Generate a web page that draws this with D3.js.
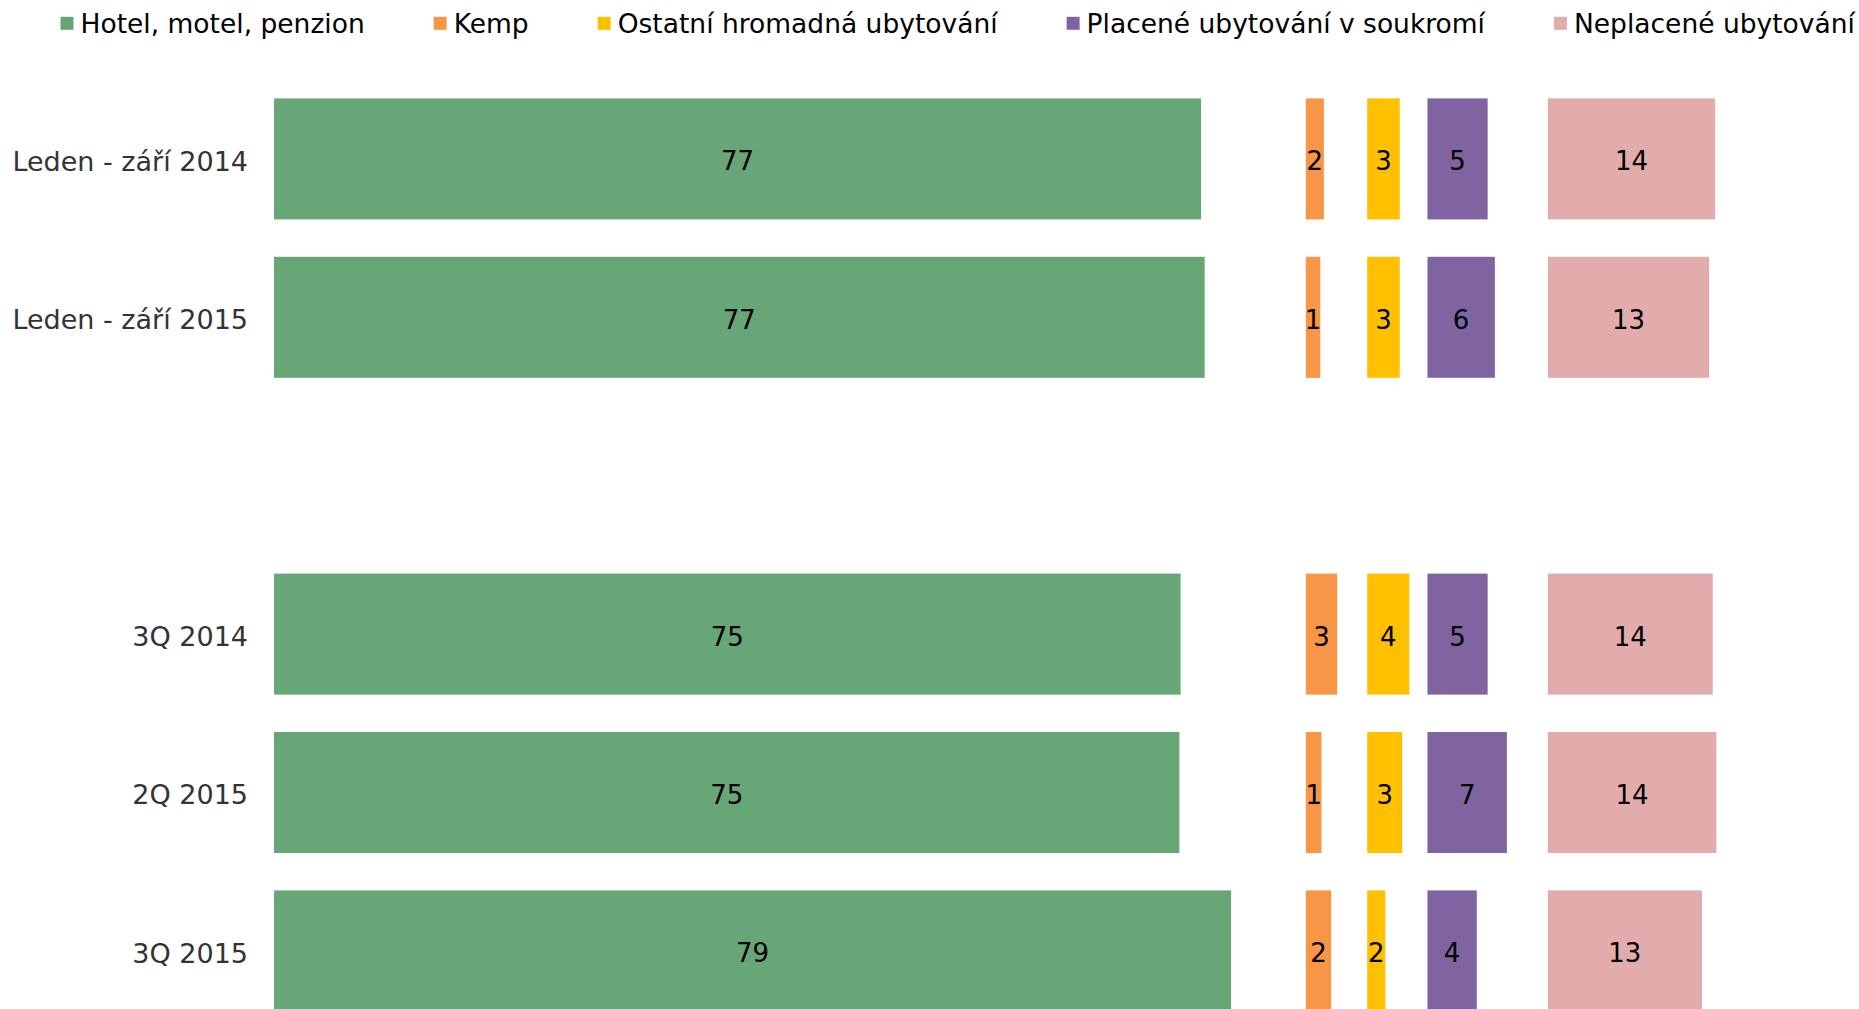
<!doctype html>
<html>
<head>
<meta charset="utf-8">
<script src="https://cdnjs.cloudflare.com/ajax/libs/d3/7.8.5/d3.min.js"></script>
<style>
body { margin: 0; background: #fff; }
text { font-family: "DejaVu Sans", Verdana, sans-serif; }
</style>
</head>
<body>
<svg id="chart" width="1859" height="1009"></svg>
<script>
// categories ("" is the empty spacer row between the two groups)
var categories = ["Leden - září 2014", "Leden - září 2015", "", "3Q 2014", "2Q 2015", "3Q 2015"];
var seriesNames = ["Hotel, motel, penzion", "Kemp", "Ostatní hromadná ubytování",
                   "Placené ubytování v soukromí", "Neplacené ubytování"];

// shares in %
var hotel     = [77.0, 77.3, null, 75.3, 75.2, 79.49];
var kemp      = [1.5,  1.2,  null, 2.6,  1.3,  2.1];
var ostatni   = [2.7,  2.7,  null, 3.5,  2.9,  1.5];
var placene   = [5.0,  5.6,  null, 5.0,  6.6,  4.1];
var neplacene = [13.9, 13.4, null, 13.7, 14.0, 12.8];

var colors = ["#67a676", "#f79646", "#ffc000", "#8064a2", "#e2acac"];

// where each panel column starts, in % units
var panelStart = [0, 85.7, 90.8, 95.8, 105.8];

var allSeries = [hotel, kemp, ostatni, placene, neplacene];

var svg = d3.select("#chart");

var x = d3.scaleLinear().domain([0, 130]).range([274, 274 + 130 * 12.04]);

var step = 158.4;
var y = d3.scaleBand()
  .domain(categories)
  .range([98.4 - step * 0.12, 98.4 - step * 0.12 + step * (6 - 0.236 + 0.24)])
  .paddingInner(0.236)
  .paddingOuter(0.12);

// flatten into bar records
var bars = [];
allSeries.forEach(function(vals, s) {
  vals.forEach(function(v, i) {
    if (v == null) return;
    bars.push({ s: s, cat: categories[i], value: v });
  });
});

var g = svg.append("g");

g.selectAll("rect.bar")
  .data(bars)
  .enter().append("rect")
  .attr("class", "bar")
  .attr("x", d => x(panelStart[d.s]))
  .attr("y", d => y(d.cat))
  .attr("width", d => x(panelStart[d.s] + d.value) - x(panelStart[d.s]))
  .attr("height", y.bandwidth())
  .style("fill", d => colors[d.s]);

g.selectAll("text.val")
  .data(bars)
  .enter().append("text")
  .attr("class", "val")
  .attr("x", d => (x(panelStart[d.s]) + x(panelStart[d.s] + d.value)) / 2)
  .attr("y", d => y(d.cat) + y.bandwidth() / 2)
  .attr("dy", "0.44em")
  .attr("text-anchor", "middle")
  .style("font-size", "26px")
  .style("fill", "#000")
  .text(d => Math.round(d.value));

// category axis
var yAxis = d3.axisLeft(y).tickSize(0).tickPadding(0);
var ax = svg.append("g")
  .attr("transform", "translate(248,0)")
  .call(yAxis);
ax.select(".domain").remove();
ax.selectAll("text")
  .attr("dy", "0.44em")
  .style("font-size", "27px")
  .style("font-family", "'DejaVu Sans', Verdana, sans-serif")
  .style("fill", "#333");

// legend
var legend = svg.append("g");
var lx = 60.5;
seriesNames.forEach(function(name, i) {
  legend.append("rect")
    .attr("x", lx).attr("y", 16.8)
    .attr("width", 13).attr("height", 13)
    .style("fill", colors[i]);
  var t = legend.append("text")
    .attr("x", lx + 20).attr("y", 23.5)
    .attr("dy", "0.36em")
    .style("font-size", "26.5px")
    .style("fill", "#000")
    .text(name);
  lx += 20 + t.node().getComputedTextLength() + 69;
});
</script>
</body>
</html>
